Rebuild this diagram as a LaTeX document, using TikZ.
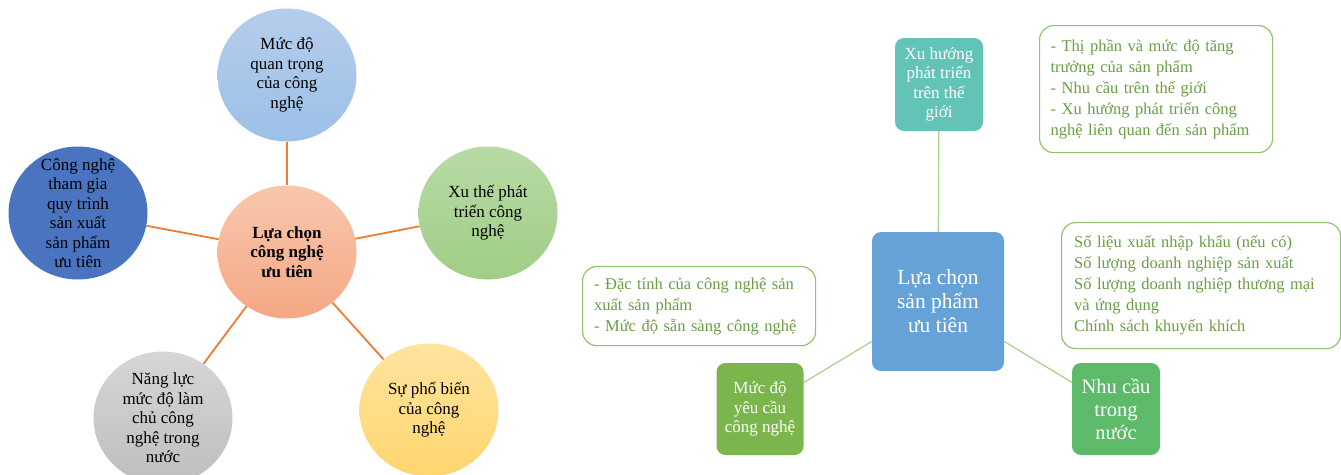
\documentclass[tikz,border=0pt]{standalone}
\usepackage{fontspec}
\setmainfont{Liberation Serif}
\usetikzlibrary{shapes.geometric}

\definecolor{spokeorange}{HTML}{ED7D31}
\definecolor{linkgreen}{HTML}{A9D18E}
\definecolor{notegreen}{HTML}{92C46F}
\definecolor{notetext}{HTML}{6A9E45}

\tikzset{
  bubble/.style={ellipse, minimum width=139pt, minimum height=133pt, inner sep=-14pt,
    align=center, font=\fontsize{17}{19.5}\selectfont},
  spoke/.style={draw=spokeorange, line width=1.8pt},
  tile/.style={rounded corners=9pt, inner sep=0pt, align=center, text=white},
  note/.style={draw=notegreen, line width=1.2pt, rounded corners=14pt, anchor=north west,
    inner sep=0pt, align=left, text=notetext, font=\fontsize{16.5}{21}\selectfont},
  link/.style={draw=linkgreen, line width=1.2pt}
}

\begin{document}
\begin{tikzpicture}[x=1pt, y=-1pt]
\useasboundingbox (0,0) rectangle (1341,474);
\clip (0,0) rectangle (1341,474);
\fill[white] (0,0) rectangle (1341,474);

% technology selection
\path (287,252) node[bubble, top color={rgb,255:red,248;green,199;blue,172}, bottom color={rgb,255:red,244;green,168;blue,133}] (hub) {\textbf{Lựa chọn}\\\textbf{công nghệ}\\\textbf{ưu tiên}};
\path (287,75) node[bubble, top color={rgb,255:red,182;green,205;blue,235}, bottom color={rgb,255:red,156;green,192;blue,231}] (imp) {Mức độ\\quan trọng\\của công\\nghệ};
\path (488,213) node[bubble, top color={rgb,255:red,184;green,218;blue,165}, bottom color={rgb,255:red,160;green,206;blue,133}] (trd) {Xu thế phát\\triển công\\nghệ};
\path (429,410) node[bubble, top color={rgb,255:red,255;green,228;blue,160}, bottom color={rgb,255:red,255;green,214;blue,110}] (pop) {Sự phổ biến\\của công\\nghệ};
\path (163,418) node[bubble, top color={rgb,255:red,214;green,214;blue,214}, bottom color={rgb,255:red,190;green,190;blue,190}] (cap) {Năng lực\\mức độ làm\\chủ công\\nghệ trong\\nước};
\path (78,213) node[bubble, fill={rgb,255:red,74;green,116;blue,191}] (prc) {Công nghệ\\tham gia\\quy trình\\sản xuất\\sản phẩm\\ưu tiên};
\draw[spoke] (hub) -- (imp);
\draw[spoke] (hub) -- (trd);
\draw[spoke] (hub) -- (pop);
\draw[spoke] (hub) -- (cap);
\draw[spoke] (hub) -- (prc);

% product selection
\path (938,301.5) node[tile, fill={rgb,255:red,102;green,162;blue,216}, minimum width=132pt, minimum height=139pt, font=\fontsize{21.5}{24}\selectfont] (prod) {Lựa chọn\\sản phẩm\\ưu tiên};
\path (939,84.5) node[tile, fill={rgb,255:red,98;green,195;blue,182}, minimum width=88pt, minimum height=93pt, font=\fontsize{17}{19.5}\selectfont] (wld) {Xu hướng\\phát triển\\trên thế\\giới};
\path (760,409) node[tile, fill={rgb,255:red,122;green,182;blue,76}, minimum width=87pt, minimum height=92pt, font=\fontsize{17}{19.5}\selectfont] (req) {Mức độ\\yêu cầu\\công nghệ};
\path (1116,409) node[tile, fill={rgb,255:red,92;green,186;blue,104}, minimum width=88pt, minimum height=92pt, font=\fontsize{20.5}{23}\selectfont] (dom) {Nhu cầu\\trong\\nước};
\draw[link] (wld) -- (prod);
\draw[link] (prod) -- (req);
\draw[link] (prod) -- (dom);

\path (1039,25) node[note, minimum width=233pt, minimum height=127pt, text width=211pt] (n1) {- Thị phần và mức độ tăng\\trưởng của sản phẩm\\- Nhu cầu trên thế giới\\- Xu hướng phát triển công\\nghệ liên quan đến sản phẩm};
\path (1061,222) node[note, minimum width=279pt, minimum height=126pt, text width=254pt] (n2) {Số liệu xuất nhập khẩu (nếu có)\\Số lượng doanh nghiệp sản xuất\\Số lượng doanh nghiệp thương mại\\và ứng dụng\\Chính sách khuyến khích};
\path (582,266) node[note, minimum width=233pt, minimum height=79pt, text width=210pt] (n3) {- Đặc tính của công nghệ sản\\xuất sản phẩm\\- Mức độ sẵn sàng công nghệ};
\end{tikzpicture}
\end{document}
